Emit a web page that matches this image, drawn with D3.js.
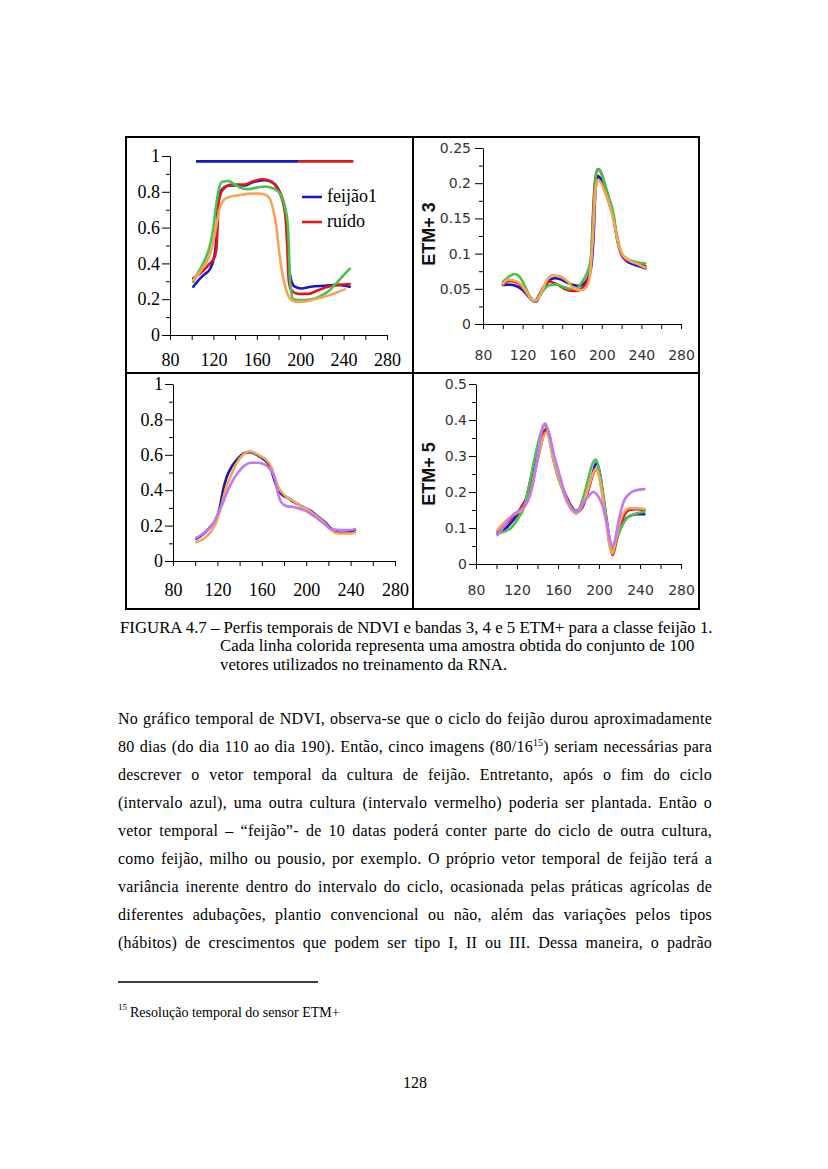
<!DOCTYPE html>
<html><head><meta charset="utf-8">
<script src="https://cdn.jsdelivr.net/npm/d3@7"></script>
<style>html,body{margin:0;padding:0;background:#fff}</style>
</head><body>
<script>
// ---------------- DATA ----------------
const xTicks = [80,100,120,140,160,180,200,220,240,260,280];
const xTickLabels = [80,120,160,200,240,280];
const ndviTicks = [0,0.2,0.4,0.6,0.8,1];
const ndviMinor = [0.1,0.3,0.5,0.7,0.9];
const b3Ticks = [0,0.05,0.1,0.15,0.2,0.25];
const b3Minor = [0.025,0.075,0.125,0.175,0.225];
const b5Ticks = [0,0.1,0.2,0.3,0.4,0.5];
const b5Minor = [0.05,0.15,0.25,0.35,0.45];
const legendNames = ["feijão1","ruído"];
const intervalBlue = [104,198];
const intervalRed = [198,249];
const intervalLevel = 0.97;

// NDVI (day, value)
const ndviBlue = [[101.5,.27],[107.6,.315],[112,.34],[117,.37],[121.4,.46],[123.2,.6],[124,.76],[129,.82],[134,.835],[140,.835],[149,.835],[155,.85],[161,.86],[167,.865],[175,.85],[181,.80],[186,.70],[188,.6],[189.5,.39],[192,.30],[195,.27],[201,.26],[210,.27],[222.6,.275],[235,.28],[245.6,.27]];
const ndviRed = [[101.5,.316],[110.7,.36],[116.8,.40],[121.4,.44],[123,.5],[125.1,.75],[127.5,.80],[132,.83],[136.7,.84],[149,.84],[155,.855],[164.4,.87],[170.5,.865],[176.6,.84],[182.1,.78],[186.4,.66],[188,.50],[189.5,.30],[192,.25],[198,.23],[207.3,.23],[216.5,.25],[225.7,.27],[235,.28],[245.6,.285]];
const ndviGreen = [[101.5,.297],[106,.35],[112.2,.42],[116.8,.50],[120,.60],[122,.70],[124.5,.80],[127.5,.855],[133.7,.86],[139.8,.84],[146,.82],[152,.815],[161.3,.825],[167.4,.83],[175,.82],[181.2,.79],[185.8,.72],[188.5,.62],[189.5,.50],[190.4,.33],[191.5,.25],[193.5,.20],[201,.195],[210.4,.20],[219.6,.22],[227.2,.25],[233.4,.29],[239.5,.33],[245.6,.37]];
const ndviOrange = [[101.5,.307],[110.7,.38],[116.8,.45],[119.9,.52],[122.9,.62],[125.4,.70],[129,.75],[133.7,.77],[142.9,.78],[155.2,.79],[161.3,.79],[167.4,.785],[172,.76],[175.1,.70],[178.2,.60],[180.3,.48],[183.4,.35],[185.8,.28],[188.9,.22],[192,.195],[198,.185],[207.3,.19],[216.5,.205],[225.7,.22],[234.9,.24],[241,.255]];

// ETM+ band 3
const b3Blue = [[100.2,.0555],[106.9,.056],[113.6,.054],[120.3,.048],[125.4,.040],[130.4,.033],[133.8,.032],[137.1,.040],[142.2,.052],[147.2,.062],[152.3,.065],[159,.063],[165.7,.058],[172.4,.055],[177.5,.054],[182.5,.058],[185.9,.065],[189.2,.08],[191.9,.13],[193.6,.19],[196,.21],[199.3,.205],[203.7,.19],[207.7,.17],[211.1,.155],[214.5,.13],[219.5,.10],[224.5,.09],[231.3,.085],[238,.082],[244,.079]];
const b3Red = [[100.2,.056],[106.9,.061],[115.3,.058],[122,.048],[128.7,.036],[132.1,.032],[137.1,.042],[142.2,.055],[147.2,.060],[153.9,.057],[162.4,.050],[169.1,.047],[174.1,.047],[180.8,.052],[185.9,.062],[189.2,.09],[190.9,.15],[193.3,.205],[196,.22],[199.3,.215],[202.7,.20],[207.7,.175],[212.1,.15],[215.5,.12],[219.5,.10],[226.2,.09],[234.6,.087],[244,.082]];
const b3Green = [[100.2,.060],[106.9,.068],[111.9,.071],[117,.067],[122,.055],[127,.040],[132.1,.032],[137.1,.040],[142.2,.050],[147.2,.055],[153.9,.056],[160.7,.053],[167.4,.050],[174.1,.050],[179.2,.058],[184.2,.070],[188.6,.090],[190.9,.14],[193.3,.20],[195.3,.22],[198.3,.218],[202.7,.20],[207,.18],[212.1,.155],[215.5,.12],[220.2,.10],[226.2,.092],[234.6,.088],[244,.086]];
const b3Orange = [[100.2,.057],[105.2,.063],[110.3,.062],[117,.058],[123.7,.046],[130.4,.034],[134.5,.034],[139.8,.048],[144.9,.063],[150.6,.069],[157.3,.068],[165.7,.060],[172.4,.050],[179.2,.048],[184.2,.052],[187.6,.065],[190.9,.12],[193.6,.19],[196,.205],[199.3,.20],[203.7,.185],[208.7,.165],[212.8,.14],[216.8,.115],[221.2,.098],[227.9,.09],[236.3,.085],[244,.08]];

// ETM+ band 4
const b4Blue = [[101,.126],[108.6,.16],[114.6,.20],[119.1,.24],[122.1,.30],[125.1,.40],[128.1,.47],[132.6,.53],[138.6,.58],[144.7,.61],[149.2,.615],[153.7,.605],[158.2,.59],[162.7,.57],[165.7,.55],[168.7,.51],[171.7,.45],[174.7,.40],[179.2,.37],[183.8,.355],[188.3,.335],[192.8,.32],[198.8,.30],[204.8,.28],[210.8,.25],[216.8,.22],[222.9,.18],[228.9,.16],[234.9,.16],[240.8,.165],[243.8,.175]];
const b4Orange = [[101,.107],[108.6,.13],[114.6,.17],[119.1,.22],[122.1,.28],[125.1,.35],[128.1,.42],[132,.48],[137.1,.55],[143.2,.60],[149.2,.62],[153.7,.61],[158.2,.595],[164.2,.57],[168.7,.53],[171.7,.47],[174.7,.42],[179.2,.38],[183.8,.355],[188.3,.34],[192.8,.32],[198.8,.30],[204.8,.275],[210.8,.245],[216.8,.215],[221.4,.18],[225.9,.16],[231.9,.155],[237.9,.155],[243.8,.16]];
const b4Purple = [[101,.13],[110.1,.17],[116.1,.21],[120.6,.27],[125.1,.33],[128.1,.38],[132.6,.44],[138.6,.50],[144.7,.54],[150.7,.555],[156.7,.555],[162.7,.545],[167.2,.52],[171.7,.47],[174.7,.38],[177.7,.33],[182.3,.31],[188.3,.305],[194.3,.295],[200.3,.28],[207.8,.25],[215.3,.215],[222.9,.18],[231.9,.175],[240.8,.175],[243.8,.18]];

// ETM+ band 5
const b5Blue = [[101.1,.084],[109.3,.10],[115.8,.12],[122.3,.145],[128.8,.18],[133.7,.24],[136.9,.28],[141.8,.33],[146.7,.37],[149.9,.37],[153.2,.33],[158,.27],[162.9,.22],[167.8,.19],[174.3,.155],[179.2,.145],[184.1,.16],[188.9,.20],[193.8,.25],[197.1,.28],[200.3,.26],[203.6,.20],[207.5,.12],[210.1,.06],[212.7,.035],[215,.05],[219.8,.09],[224.7,.12],[231.2,.135],[237.7,.138],[244.2,.138]];
const b5Red = [[101.1,.09],[109.3,.11],[115.8,.13],[122.3,.15],[128.8,.18],[133.7,.21],[138.5,.27],[143.4,.33],[147.6,.375],[151.5,.36],[154.8,.30],[161.3,.24],[166.2,.20],[172.7,.16],[177.6,.145],[184.1,.16],[188.9,.20],[193.8,.245],[197.1,.265],[200.3,.245],[204.2,.18],[208.5,.10],[211.7,.04],[213.3,.025],[215.6,.045],[219.8,.10],[224.7,.135],[229.6,.15],[236.1,.152],[244.2,.15]];
const b5Green = [[101.1,.085],[107.6,.09],[114.1,.10],[120.7,.125],[127.2,.16],[132,.22],[136.9,.29],[141.8,.35],[146.7,.385],[149.9,.37],[153.2,.32],[158,.26],[163.9,.21],[169.4,.17],[175,.15],[179.2,.15],[184.1,.18],[188.9,.23],[193.8,.28],[197.1,.29],[200.3,.26],[204.2,.19],[208.5,.10],[211.7,.05],[214,.04],[217.2,.07],[221.5,.10],[228,.13],[236.1,.14],[244.2,.145]];
const b5Orange = [[101.1,.095],[109.3,.12],[115.8,.135],[122.3,.145],[128.8,.165],[133.7,.20],[138.5,.27],[143.4,.33],[148.3,.365],[151.5,.35],[154.8,.30],[159.7,.25],[165.2,.20],[171.1,.16],[177.6,.14],[182.4,.155],[187.3,.19],[192.8,.24],[197.1,.265],[200.3,.24],[204.2,.17],[207.8,.10],[211.1,.04],[213.3,.03],[215.9,.06],[219.8,.11],[224.7,.145],[229.6,.155],[236.1,.155],[244.2,.153]];
const b5Purple = [[101.1,.08],[106,.10],[112.5,.125],[117.4,.14],[125.5,.155],[130.4,.175],[135.3,.22],[140.2,.30],[145,.38],[147.6,.39],[151.5,.36],[156.4,.30],[161.3,.25],[166.2,.20],[171.1,.165],[177.6,.145],[182.4,.16],[188.9,.185],[194.5,.20],[198.7,.19],[203.6,.16],[208.5,.10],[212.7,.05],[215,.06],[219.2,.12],[223.7,.17],[229.6,.195],[236.1,.205],[244.2,.208]];

// Text
const captionLines = [
  "FIGURA 4.7 – Perfis temporais de NDVI e bandas 3, 4 e 5 ETM+ para a classe feijão 1.",
  "Cada linha colorida representa uma amostra obtida do conjunto de 100",
  "vetores utilizados no treinamento da RNA."
];
const bodyLines = [
  "No gráfico temporal de NDVI, observa-se que o ciclo do feijão durou aproximadamente",
  "80 dias (do dia 110 ao dia 190). Então, cinco imagens (80/16{15}) seriam necessárias para",
  "descrever o vetor temporal da cultura de feijão. Entretanto, após o fim do ciclo",
  "(intervalo azul), uma outra cultura (intervalo vermelho) poderia ser plantada. Então o",
  "vetor temporal – “feijão”- de 10 datas poderá conter parte do ciclo de outra cultura,",
  "como feijão, milho ou pousio, por exemplo. O próprio vetor temporal de feijão terá a",
  "variância inerente dentro do intervalo do ciclo, ocasionada pelas práticas agrícolas de",
  "diferentes adubações, plantio convencional ou não, além das variações pelos tipos",
  "(hábitos) de crescimentos que podem ser tipo I, II ou III. Dessa maneira, o padrão"
];
const footnoteMark = "15";
const footnoteText = "Resolução temporal do sensor ETM+";
const pageNumber = "128";

// ---------------- DRAW ----------------
const COL = {blue:"#1818c8", red:"#e01818", green:"#4cc04c", orange:"#f7a358", purple:"#c278f0"};
const SERIF = "'Liberation Serif', 'Times New Roman', serif";
const SANS = "'DejaVu Sans', Verdana, sans-serif";
const BOLD = "'Liberation Sans', Arial, sans-serif";

const svg = d3.select("body").append("svg").attr("width",828).attr("height",1169);
svg.append("rect").attr("width",828).attr("height",1169).attr("fill","#fff");

// outer frame and dividers
const frame = svg.append("g").attr("stroke","#000").attr("stroke-width",2).attr("fill","none");
frame.append("rect").attr("x",126).attr("y",137).attr("width",573).attr("height",472);
frame.append("line").attr("x1",413).attr("x2",413).attr("y1",137).attr("y2",609);
frame.append("line").attr("x1",126).attr("x2",699).attr("y1",373).attr("y2",373);

const fmt = d => String(+d.toFixed(3));

function panel(cfg){
  const x = d3.scaleLinear().domain([80,280]).range(cfg.xr);
  const y = d3.scaleLinear().domain(cfg.yd).range(cfg.yr);
  const g = svg.append("g");
  const tf = sel => sel.attr("font-family",cfg.font).attr("font-size",cfg.fs).attr("fill",cfg.fontColor);
  // x axis
  const xa = g.append("g").attr("transform",`translate(0,${cfg.yr[0]})`)
    .call(d3.axisBottom(x).tickValues(xTicks).tickSize(5).tickSizeOuter(0)
      .tickFormat(d => xTickLabels.includes(d) ? d : ""));
  xa.selectAll("text").attr("y", cfg.xBase - cfg.yr[0]).attr("dy",0).call(tf);
  // y axis major
  const ya = g.append("g").attr("transform",`translate(${cfg.xr[0]},0)`)
    .call(d3.axisLeft(y).tickValues(cfg.ticks).tickSize(cfg.tickLen).tickSizeOuter(0).tickFormat(fmt));
  ya.selectAll("text").attr("x", -cfg.labelGap).call(tf);
  // y axis minor
  g.append("g").attr("transform",`translate(${cfg.xr[0]},0)`)
    .call(d3.axisLeft(y).tickValues(cfg.minor).tickSize(4).tickSizeOuter(0).tickFormat(""))
    .select(".domain").remove();
  g.selectAll(".domain, .tick line").attr("stroke","#000").attr("stroke-width",1);
  // series
  const line = d3.line().x(d => x(d[0])).y(d => y(d[1])).curve(d3.curveMonotoneX);
  cfg.series.forEach(s => {
    g.append("path").datum(s.data).attr("d",line).attr("fill","none")
      .attr("stroke",s.color).attr("stroke-width",2.6).attr("stroke-linejoin","round").attr("stroke-linecap","round");
  });
  if (cfg.ylabel){
    g.append("text").attr("transform",`translate(${cfg.ylabel.x},${cfg.ylabel.y}) rotate(-90)`)
      .attr("text-anchor","middle").attr("dominant-baseline","central")
      .attr("font-family",BOLD).attr("font-weight","bold").attr("font-size",18).attr("fill","#111")
      .text(cfg.ylabel.text);
  }
  return {x,y,g};
}

const p1 = panel({xr:[170,387], yd:[0,1], yr:[335,156], ticks:ndviTicks, minor:ndviMinor, tickLen:8, labelGap:10,
  font:SERIF, fs:18, fontColor:"#000", xBase:366,
  series:[{data:ndviBlue,color:COL.blue},{data:ndviRed,color:COL.red},{data:ndviGreen,color:COL.green},{data:ndviOrange,color:COL.orange}]});
// interval bars
p1.g.append("line").attr("x1",p1.x(intervalBlue[0])).attr("x2",p1.x(intervalBlue[1]))
  .attr("y1",p1.y(intervalLevel)).attr("y2",p1.y(intervalLevel)).attr("stroke",COL.blue).attr("stroke-width",2.6);
p1.g.append("line").attr("x1",p1.x(intervalRed[0])).attr("x2",p1.x(intervalRed[1]))
  .attr("y1",p1.y(intervalLevel)).attr("y2",p1.y(intervalLevel)).attr("stroke",COL.red).attr("stroke-width",2.6);
// legend
[[COL.blue,197],[COL.red,222]].forEach((c,i) => {
  p1.g.append("line").attr("x1",302).attr("x2",322).attr("y1",c[1]).attr("y2",c[1]).attr("stroke",c[0]).attr("stroke-width",2.6);
  p1.g.append("text").attr("x",327).attr("y",c[1]+5).attr("font-family",SERIF).attr("font-size",18).attr("fill","#000").text(legendNames[i]);
});

panel({xr:[483,681], yd:[0,0.25], yr:[324,148], ticks:b3Ticks, minor:b3Minor, tickLen:8, labelGap:12,
  font:SANS, fs:14, fontColor:"#333", xBase:360,
  ylabel:{x:429,y:234,text:"ETM+ 3"},
  series:[{data:b3Blue,color:COL.blue},{data:b3Red,color:COL.red},{data:b3Green,color:COL.green},{data:b3Orange,color:COL.orange}]});

panel({xr:[173,395], yd:[0,1], yr:[561,384], ticks:ndviTicks, minor:ndviMinor, tickLen:8, labelGap:10,
  font:SERIF, fs:18, fontColor:"#000", xBase:596,
  series:[{data:b4Blue,color:"#1a1a9c"},{data:b4Orange,color:COL.orange},{data:b4Purple,color:COL.purple}]});

panel({xr:[476,681], yd:[0,0.5], yr:[564,384], ticks:b5Ticks, minor:b5Minor, tickLen:7, labelGap:9,
  font:SANS, fs:14, fontColor:"#333", xBase:595,
  ylabel:{x:429,y:474,text:"ETM+ 5"},
  series:[{data:b5Blue,color:COL.blue},{data:b5Red,color:COL.red},{data:b5Green,color:COL.green},{data:b5Orange,color:COL.orange},{data:b5Purple,color:COL.purple}]});

// ---------------- TEXT ----------------
function measure(str, size){
  const t = svg.append("text").attr("font-family",SERIF).attr("font-size",size).text(str);
  const w = t.node().getComputedTextLength(); t.remove(); return w;
}
// caption
const capSize = 16 * 593 / measure(captionLines[0],16);
const capPos = [[120,633],[220,651],[220,670]];
captionLines.forEach((s,i) => {
  svg.append("text").attr("x",capPos[i][0]).attr("y",capPos[i][1]).attr("font-family",SERIF)
    .attr("font-size",capSize).attr("fill","#000").text(s);
});

// body, justified
const BODY_FS = 16, X0 = 118, X1 = 712, Y0 = 724, LH = 28;
function wordNode(w, y){
  const t = svg.append("text").attr("y",y).attr("font-family",SERIF).attr("font-size",BODY_FS)
    .attr("letter-spacing",0.25).attr("fill","#000");
  const parts = w.split(/(\{\d+\})/).filter(p => p);
  let raised = false;
  parts.forEach(p => {
    if (p.startsWith("{")) {
      t.append("tspan").attr("font-size",BODY_FS*0.62).attr("dy",-BODY_FS*0.4).text(p.slice(1,-1));
      raised = true;
    } else {
      const ts = t.append("tspan").text(p);
      if (raised) { ts.attr("dy",BODY_FS*0.4); raised = false; }
    }
  });
  return t;
}
bodyLines.forEach((line,i) => {
  const y = Y0 + i*LH;
  const nodes = line.split(" ").map(w => wordNode(w,y));
  const widths = nodes.map(n => n.node().getComputedTextLength());
  const total = d3.sum(widths);
  const gap = (X1 - X0 - total) / (nodes.length - 1);
  let cx = X0;
  nodes.forEach((n,k) => { n.attr("x",cx); cx += widths[k] + gap; });
});

// footnote
svg.append("line").attr("x1",118).attr("x2",318).attr("y1",982).attr("y2",982).attr("stroke","#000").attr("stroke-width",1.5);
const fnSize = 13 * 210 / measure(footnoteText,13);
svg.append("text").attr("x",118).attr("y",1010).attr("font-family",SERIF).attr("font-size",9).attr("fill","#000").text(footnoteMark);
svg.append("text").attr("x",130).attr("y",1017).attr("font-family",SERIF).attr("font-size",fnSize).attr("fill","#000").text(footnoteText);
// page number
svg.append("text").attr("x",415).attr("y",1088).attr("text-anchor","middle").attr("font-family",SERIF).attr("font-size",16).attr("fill","#000").text(pageNumber);
</script>
</body></html>
